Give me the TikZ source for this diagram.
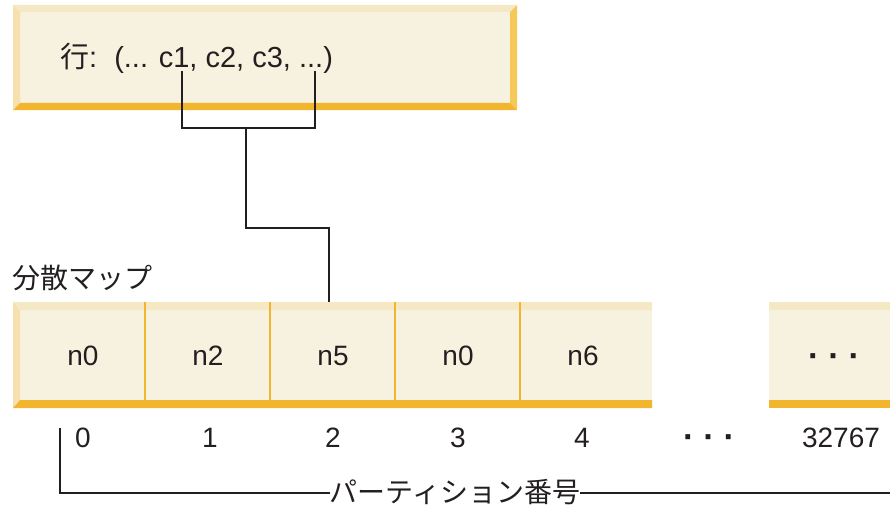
\documentclass[tikz,border=0pt]{standalone}
\usepackage{fontspec}
\setmainfont{Liberation Sans}
\newfontfamily\jpfont{Noto Sans CJK JP}
\definecolor{cream}{HTML}{F7F1E0}
\definecolor{bevlight}{HTML}{F5E8C5}
\definecolor{bevleft}{HTML}{F6E1AE}
\definecolor{bevright}{HTML}{F4C95A}
\definecolor{bevbottom}{HTML}{F2B52E}
\definecolor{ink}{HTML}{231F20}
\tikzset{
  lbl/.style={text=ink, font=\fontsize{28}{32}\selectfont, inner sep=0pt, anchor=base},
  rowlbl/.style={text=ink, font=\fontsize{29}{32}\selectfont, inner sep=0pt, anchor=base west},
  dots/.style={text=ink, font=\fontsize{34}{36}\selectfont\bfseries, inner sep=0pt},
  jplbl/.style={text=ink, font=\jpfont\fontsize{28}{32}\selectfont, inner sep=0pt},
  wire/.style={draw=ink, line width=1.8pt},
  divider/.style={draw=bevbottom, line width=1.2pt},
}
\begin{document}
\begin{tikzpicture}[x=1pt,y=-1pt]
\useasboundingbox (0,0) rectangle (890,508);

% row box with bevelled frame
\fill[cream] (20,12) rectangle (510,103);
\fill[bevlight] (13,5) -- (517,5) -- (510,12) -- (20,12) -- cycle;
\fill[bevleft] (13,5) -- (20,12) -- (20,103) -- (13,110) -- cycle;
\fill[bevright] (517,5) -- (517,110) -- (510,103) -- (510,12) -- cycle;
\fill[bevbottom] (13,110) -- (20,103) -- (510,103) -- (517,110) -- cycle;
\node[rowlbl] (row) at (60,68) {{\jpfont 行}:\hspace{17pt}(... c1, c2, c3, ...)};

% distribution map
\node[jplbl, anchor=west] (maplabel) at (12,278) {分散マップ};
\fill[cream] (20,310) rectangle (652,400);
\fill[bevlight] (13,302) -- (652,302) -- (652,310) -- (20,310) -- cycle;
\fill[bevleft] (13,302) -- (20,310) -- (20,400) -- (13,408) -- cycle;
\fill[bevbottom] (13,408) -- (20,400) -- (652,400) -- (652,408) -- cycle;
\foreach \x in {145,270,395,520} \draw[divider] (\x,302) -- (\x,408);

\fill[cream] (769,310) rectangle (890,400);
\fill[bevlight] (769,302) rectangle (890,310);
\fill[bevbottom] (769,400) rectangle (890,408);

\node[lbl] (m0) at (83,365) {n0};
\node[lbl] (m1) at (208,365) {n2};
\node[lbl] (m2) at (333,365) {n5};
\node[lbl] (m3) at (458,365) {n0};
\node[lbl] (m4) at (583,365) {n6};
\node[dots] (mdots) at (834,361) {·\hspace{9pt}·\hspace{9pt}·};

% partition numbers
\node[lbl] (p0) at (83,447) {0};
\node[lbl] (p1) at (210,447) {1};
\node[lbl] (p2) at (333,447) {2};
\node[lbl] (p3) at (458,447) {3};
\node[lbl] (p4) at (582,447) {4};
\node[dots] (pdots) at (709,442) {·\hspace{9pt}·\hspace{9pt}·};
\node[lbl] (plast) at (841,447) {32767};

% column selection feeding the map
\coordinate (c1) at (182,71);
\coordinate (cend) at (315,71);
\coordinate (cell) at (329,302);
\draw[wire] (c1) |- (246,128) coordinate (join) -| (cend);
\draw[wire] (join) |- (329,228) -- (cell);

% partition number bracket
\node[jplbl, fill=white, inner xsep=0pt] (pn) at (455,492) {パーティション番号};
\coordinate (ptop) at (60,428);
\coordinate (pend) at (890,493);
\draw[wire] (ptop) |- (pn.west |- 0,493);
\draw[wire] (pn.east |- 0,493) -- (pend);
\end{tikzpicture}
\end{document}
